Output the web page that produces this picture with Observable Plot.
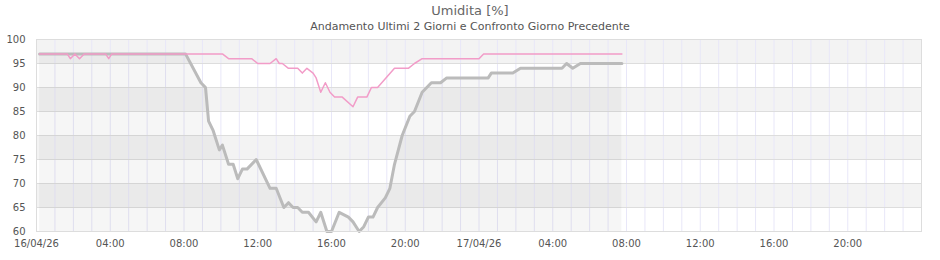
<!DOCTYPE html>
<html><head><meta charset="utf-8">
<script src="https://cdn.jsdelivr.net/npm/d3@7"></script>
<script src="https://cdn.jsdelivr.net/npm/@observablehq/plot@0.6"></script>
<style>
body{margin:0;background:#fff;font-family:"DejaVu Sans",sans-serif;}
#title{height:18px;line-height:18px;padding-top:2px;font-size:13px;color:#666;text-align:center;}
#subtitle{height:14px;line-height:14px;font-size:11px;color:#555;text-align:center;}
</style></head><body>
<div id="title">Umidita [%]</div>
<div id="subtitle">Andamento Ultimi 2 Giorni e Confronto Giorno Precedente</div>
<div id="chart"></div>
<script>
// Current period (gray line)
const currentTimes = [
 "2026-04-16T00:10","2026-04-16T08:05","2026-04-16T08:55","2026-04-16T09:10","2026-04-16T09:20",
 "2026-04-16T09:35","2026-04-16T09:55","2026-04-16T10:05","2026-04-16T10:25","2026-04-16T10:40",
 "2026-04-16T10:55","2026-04-16T11:10","2026-04-16T11:25","2026-04-16T11:55","2026-04-16T12:40",
 "2026-04-16T13:00","2026-04-16T13:25","2026-04-16T13:40","2026-04-16T13:55","2026-04-16T14:10",
 "2026-04-16T14:25","2026-04-16T14:45","2026-04-16T15:10","2026-04-16T15:25","2026-04-16T15:45",
 "2026-04-16T16:00","2026-04-16T16:25","2026-04-16T16:55","2026-04-16T17:10","2026-04-16T17:30",
 "2026-04-16T17:45","2026-04-16T18:00","2026-04-16T18:15","2026-04-16T18:30","2026-04-16T18:55",
 "2026-04-16T19:10","2026-04-16T19:25","2026-04-16T19:50","2026-04-16T20:15","2026-04-16T20:30",
 "2026-04-16T20:55","2026-04-16T21:10","2026-04-16T21:25","2026-04-16T21:55","2026-04-16T22:15",
 "2026-04-17T00:30","2026-04-17T00:40","2026-04-17T01:50","2026-04-17T02:15","2026-04-17T04:30",
 "2026-04-17T04:45","2026-04-17T05:05","2026-04-17T05:30","2026-04-17T07:45"
];
const currentValues = [
 97,97,91,90,83,
 81,77,78,74,74,
 71,73,73,75,69,
 69,65,66,65,65,
 64,64,62,64,60,
 60,64,63,62,60,
 61,63,63,65,67,
 69,74,80,84,85,
 89,90,91,91,92,
 92,93,93,94,94,
 95,94,95,95
];
// Previous day comparison (pink line)
const previousTimes = [
 "2026-04-16T00:10","2026-04-16T01:40","2026-04-16T01:50","2026-04-16T02:05","2026-04-16T02:20",
 "2026-04-16T02:35","2026-04-16T03:45","2026-04-16T03:55","2026-04-16T04:05","2026-04-16T10:05",
 "2026-04-16T10:25","2026-04-16T11:40","2026-04-16T12:00","2026-04-16T12:40","2026-04-16T13:00",
 "2026-04-16T13:10","2026-04-16T13:20","2026-04-16T13:40","2026-04-16T14:10","2026-04-16T14:25",
 "2026-04-16T14:40","2026-04-16T15:00","2026-04-16T15:10","2026-04-16T15:25","2026-04-16T15:40",
 "2026-04-16T15:55","2026-04-16T16:10","2026-04-16T16:35","2026-04-16T17:10","2026-04-16T17:25",
 "2026-04-16T17:55","2026-04-16T18:10","2026-04-16T18:30","2026-04-16T19:25","2026-04-16T20:10",
 "2026-04-16T20:30","2026-04-16T20:55","2026-04-17T00:00","2026-04-17T00:15","2026-04-17T07:45"
];
const previousValues = [
 97,97,96,97,96,
 97,97,96,97,97,
 96,96,95,95,96,
 95,95,94,94,93,
 94,93,92,89,91,
 89,88,88,86,88,
 88,90,90,94,94,
 95,96,96,97,97
];
const yTicks = [60,65,70,75,80,85,90,95,100];
const bandStarts = [65,75,85,95];
const xTickTimes = [
 "2026-04-16T00:00","2026-04-16T04:00","2026-04-16T08:00","2026-04-16T12:00","2026-04-16T16:00","2026-04-16T20:00",
 "2026-04-17T00:00","2026-04-17T04:00","2026-04-17T08:00","2026-04-17T12:00","2026-04-17T16:00","2026-04-17T20:00"
];
const xDomain = ["2026-04-16T00:00","2026-04-18T00:00"];

const parse = d3.utcParse("%Y-%m-%dT%H:%M");
const current = currentTimes.map((t,i)=>({t:parse(t), v:currentValues[i]}));
const previous = previousTimes.map((t,i)=>({t:parse(t), v:previousValues[i]}));
const start = parse(xDomain[0]), end = parse(xDomain[1]);
const hourLines = d3.utcHour.range(start, end);
const fmtDay = d3.utcFormat("%d/%m/%y"), fmtHour = d3.utcFormat("%H:%M");
const tickFmt = d => d.getUTCHours() === 0 ? fmtDay(d) : fmtHour(d);

const chart = Plot.plot({
  width: 940, height: 226,
  marginTop: 5, marginBottom: 29, marginLeft: 36, marginRight: 19,
  style: {fontFamily: "DejaVu Sans, sans-serif", fontSize: "10px", color: "#555", background: "#fff"},
  x: {type: "utc", domain: [start, end], ticks: xTickTimes.map(parse), tickFormat: tickFmt, tickSize: 0, tickPadding: 8, label: null},
  y: {domain: [60, 100], ticks: yTicks, tickSize: 0, tickPadding: 11, label: null},
  marks: [
    Plot.rect(bandStarts, {x1: () => start, x2: () => end, y1: d => d, y2: d => d + 5, fill: "#f3f3f3"}),
    Plot.ruleX(hourLines, {stroke: "#e8e7f8"}),
    Plot.ruleY(yTicks, {stroke: "#dddddd"}),
    Plot.areaY(current, {x: "t", y1: 60, y2: "v", fill: "#000", fillOpacity: 0.035}),
    Plot.line(current, {x: "t", y: "v", stroke: "#bbbbbb", strokeWidth: 3}),
    Plot.line(previous, {x: "t", y: "v", stroke: "#f29cc8", strokeWidth: 1.5}),
    Plot.frame({stroke: "#dddddd"})
  ]
});
document.getElementById("chart").appendChild(chart);
</script>
</body></html>
